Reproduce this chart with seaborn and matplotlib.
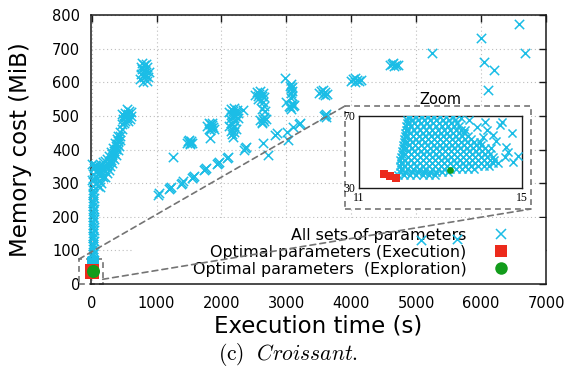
import matplotlib
matplotlib.use("Agg")
import matplotlib.pyplot as plt
from matplotlib.lines import Line2D
from matplotlib.patches import Rectangle, ConnectionPatch
import pandas as pd
import seaborn as sns

# ---------------- data ----------------
x_ticks = [0, 1000, 2000, 3000, 4000, 5000, 6000, 7000]
y_ticks = [0, 100, 200, 300, 400, 500, 600, 700, 800]
inset_xticks = [11, 15]
inset_yticks = [30, 70]

labels = ["All sets of parameters", "Optimal parameters (Execution)",
          "Optimal parameters  (Exploration)"]

# vertical band of runs close to 0 s
band_pts = [(14, 72), (28, 80), (18, 88), (32, 96), (15, 104), (27, 112), (19, 120),
            (31, 128), (14, 136), (26, 144), (20, 152), (33, 160), (15, 168), (28, 176),
            (18, 184), (32, 192), (14, 200), (27, 208), (20, 216), (31, 224), (15, 232),
            (28, 240), (18, 248), (33, 256), (14, 264), (26, 272), (20, 280)]
# rising curve of short runs
curve_pts = [(20, 290), (60, 300), (100, 292), (130, 288), (40, 312), (80, 316), (120, 305),
             (20, 326), (60, 332), (100, 330), (30, 345), (70, 350), (10, 358), (45, 355),
             (150, 300), (170, 318), (200, 318), (230, 330), (260, 340), (290, 350),
             (320, 360), (350, 372), (380, 385), (400, 398), (420, 410),
             (110, 350), (150, 355), (180, 362), (210, 365), (240, 372), (270, 380),
             (300, 392), (330, 405), (360, 420), (385, 432), (410, 440), (440, 452), (465, 460),
             (140, 335), (180, 340), (220, 348), (250, 358), (280, 365), (310, 378),
             (340, 390), (370, 402), (395, 415), (430, 428), (160, 345), (200, 335),
             (240, 350), (300, 370), (350, 395), (410, 425), (10, 310), (90, 340),
             (130, 322), (190, 350), (260, 362), (320, 388), (380, 410), (440, 440)]
cluster_500 = [(460, 475), (480, 490), (500, 500), (520, 510), (540, 495), (560, 505),
               (580, 515), (600, 500), (520, 485), (560, 485), (500, 480), (540, 520),
               (590, 490), (470, 505), (610, 512)]
cluster_630 = [(740, 610), (760, 625), (780, 640), (800, 650), (820, 635), (840, 620),
               (860, 645), (880, 630), (800, 615), (780, 658), (830, 655), (760, 645),
               (850, 605), (810, 625), (870, 615), (790, 600)]
clusters_mid = [(1470, 420), (1490, 425), (1510, 418), (1530, 424), (1550, 420), (1500, 428),
                (1520, 416),
                (1780, 470), (1800, 462), (1820, 475), (1840, 465), (1860, 472), (1880, 460),
                (1830, 458), (1810, 480), (1850, 478), (1870, 468),
                (2120, 512), (2140, 520), (2160, 505), (2180, 515), (2200, 522), (2220, 508),
                (2240, 518), (2260, 510), (2170, 498), (2210, 500), (2130, 490), (2150, 478),
                (2170, 465), (2140, 455), (2190, 470), (2160, 445), (2200, 452), (2180, 438),
                (2210, 485), (2230, 462), (2120, 470), (2250, 495), (2330, 517),
                (2520, 562), (2540, 570), (2560, 558), (2580, 566), (2600, 574), (2620, 560),
                (2640, 568), (2570, 550), (2610, 548), (2640, 540), (2660, 530), (2630, 520),
                (2670, 515), (2650, 555),
                (2600, 488), (2620, 482), (2640, 492), (2660, 485), (2680, 490), (2630, 478),
                (2650, 498),
                (3060, 590), (3070, 582), (3080, 575), (3065, 568), (3085, 560), (3075, 552),
                (3090, 585), (3070, 595),
                (3040, 530), (3060, 525), (3080, 535), (3100, 528), (3120, 532), (3070, 520),
                (2980, 612), (3000, 541),
                (3510, 568), (3540, 575), (3570, 565), (3600, 572), (3630, 566), (3560, 578),
                (3590, 562),
                (4000, 605), (4030, 610), (4060, 602), (4090, 608), (4120, 604), (4050, 612),
                (4150, 606),
                (4600, 650), (4630, 655), (4660, 647), (4690, 652), (4720, 650), (4650, 658)]
trail_pts = [(1027, 265), (1045, 270), (1207, 285), (1190, 282), (1225, 288), (1387, 301),
             (1370, 298), (1400, 305), (1566, 319), (1550, 316), (1580, 322), (1746, 341),
             (1730, 338), (1760, 344), (1951, 359), (1935, 356), (1965, 362), (2105, 379),
             (2090, 376), (2362, 404), (2345, 400), (2380, 406), (2644, 418), (2824, 443),
             (2721, 384), (3005, 453), (3210, 480), (3195, 476), (3595, 503), (3580, 500),
             (3610, 506), (1823, 433), (1257, 379), (3029, 428), (2850, 448), (3102, 468),
             (3615, 497)]
outliers = [(5245, 687), (6000, 732), (6585, 773), (6680, 687), (6050, 660), (6200, 636),
            (6110, 577), (5080, 131), (5630, 134)]

# zoomed region (11-15 s, 30-70 MiB): rows of points
inset_row_y = [37.0, 38.7, 40.4, 42.1, 43.8, 45.5, 47.2, 48.9, 50.6, 52.3, 54.0, 55.7,
               57.4, 59.1, 60.8, 62.5, 64.2, 65.9, 67.6, 69.3]
inset_row_x = [
    [11.96, 12.11, 12.26, 12.41, 12.56, 12.71, 12.86],
    [12.0, 12.14, 12.29, 12.44, 12.59, 12.74, 12.89, 13.04, 13.19],
    [12.02, 12.18, 12.33, 12.48, 12.63, 12.78, 12.93, 13.08, 13.23, 13.38, 13.53, 13.68, 13.83],
    [12.0, 12.12, 12.26, 12.41, 12.56, 12.71, 12.86, 13.01, 13.16, 13.31, 13.46, 13.61, 13.76, 13.91, 14.06, 14.2],
    [12.03, 12.19, 12.34, 12.49, 12.64, 12.79, 12.94, 13.09, 13.24, 13.39, 13.54, 13.69, 13.84, 13.99, 14.14, 14.28],
    [12.01, 12.13, 12.27, 12.42, 12.57, 12.72, 12.87, 13.02, 13.17, 13.32, 13.47, 13.62, 13.77, 13.92, 14.07, 14.22, 14.32],
    [12.04, 12.2, 12.35, 12.5, 12.65, 12.8, 12.95, 13.1, 13.25, 13.4, 13.55, 13.7, 13.85, 14.0, 14.15, 14.28],
    [12.05, 12.14, 12.28, 12.43, 12.58, 12.73, 12.88, 13.03, 13.18, 13.33, 13.48, 13.63, 13.78, 13.93, 14.08, 14.22],
    [12.06, 12.21, 12.36, 12.51, 12.66, 12.81, 12.96, 13.11, 13.26, 13.41, 13.56, 13.71, 13.86, 14.01, 14.16],
    [12.08, 12.15, 12.29, 12.44, 12.59, 12.74, 12.89, 13.04, 13.19, 13.34, 13.49, 13.64, 13.79, 13.94, 14.08],
    [12.09, 12.23, 12.38, 12.53, 12.68, 12.83, 12.98, 13.13, 13.28, 13.43, 13.58, 13.73, 13.88, 14.0],
    [12.1, 12.17, 12.31, 12.46, 12.61, 12.76, 12.91, 13.06, 13.21, 13.36, 13.51, 13.66, 13.81],
    [12.11, 12.24, 12.39, 12.54, 12.69, 12.84, 12.99, 13.14, 13.29, 13.44, 13.59, 13.74],
    [12.12, 12.18, 12.32, 12.47, 12.62, 12.77, 12.92, 13.07, 13.22, 13.37, 13.52, 13.67],
    [12.13, 12.26, 12.41, 12.56, 12.71, 12.86, 13.01, 13.16, 13.31, 13.46, 13.58],
    [12.15, 12.2, 12.34, 12.49, 12.64, 12.79, 12.94, 13.09, 13.24, 13.39, 13.5],
    [12.16, 12.28, 12.43, 12.58, 12.73, 12.88, 13.03, 13.18, 13.33, 13.45],
    [12.17, 12.22, 12.36, 12.51, 12.66, 12.81, 12.96, 13.11, 13.26, 13.4],
    [12.19, 12.3, 12.45, 12.6, 12.75, 12.9, 13.05, 13.2, 13.35],
    [12.2, 12.25, 12.39, 12.54, 12.69, 12.84, 12.99, 13.14, 13.3],
]
inset_sparse = [(14.78, 44.6), (14.66, 50.2), (14.75, 60.4), (14.46, 65.0), (14.5, 66.8),
                (14.3, 59.4), (14.14, 62.2), (13.98, 55.7), (14.58, 47.4), (14.42, 43.7),
                (14.6, 53.0), (14.35, 56.0), (13.9, 64.0), (13.7, 68.0), (14.1, 66.5),
                (13.6, 62.0), (14.05, 58.5), (14.25, 52.0), (14.9, 48.0), (13.5, 69.0)]

exec_x = [11.62, 11.76, 11.90]
exec_y = [37.6, 36.9, 35.8]
explo_x = [13.23]
explo_y = [40.0]

# ---------------- tables ----------------
inset_pts = [(x, y) for y, row in zip(inset_row_y, inset_row_x) for x in row] + inset_sparse
zoom_df = pd.DataFrame(inset_pts, columns=["time", "mem"])
main_df = pd.DataFrame(band_pts + curve_pts + cluster_500 + cluster_630 + clusters_mid
                       + trail_pts + outliers + inset_pts, columns=["time", "mem"])
exec_df = pd.DataFrame({"time": exec_x, "mem": exec_y})
explo_df = pd.DataFrame({"time": explo_x, "mem": explo_y})

# ---------------- style ----------------
sns.set_theme(style="white")
plt.rcParams["font.family"] = ["DejaVu Sans"]
plt.rcParams["mathtext.fontset"] = "cm"
for key in ["text.color", "axes.labelcolor", "xtick.color", "ytick.color"]:
    plt.rcParams[key] = "black"

CYAN = "#1BBDE6"
RED = "#EC2A1C"
GREEN = "#129C1B"
GRAY = "#747474"
EDGE = "#1a1a1a"

W, H = 571, 376
fig = plt.figure(figsize=(W / 100, H / 100), dpi=100)

def fx(px):
    return px / W

def fy(py):
    return 1 - py / H

ax = fig.add_axes([fx(90.7), fy(284), (546 - 90.7) / W, (284 - 15) / H])

sns.scatterplot(data=main_df, x="time", y="mem", marker="x", s=45, linewidth=1.1,
                color=CYAN, ax=ax, zorder=3, legend=False, clip_on=False)
sns.scatterplot(data=exec_df, x="time", y="mem", marker="s", s=105, linewidth=0,
                color=RED, ax=ax, zorder=4, legend=False, clip_on=False)
sns.scatterplot(data=explo_df, x="time", y="mem", marker="o", s=88, linewidth=0,
                color=GREEN, ax=ax, zorder=5, legend=False, clip_on=False)

ax.set_xlim(-15, 7000)
ax.set_ylim(0, 800)
ax.set_xticks(x_ticks)
ax.set_yticks(y_ticks)
ax.tick_params(direction="in", length=5, width=1, top=True, right=True,
               labelsize=10.5, color=EDGE)
ax.tick_params(axis="x", pad=9)
ax.tick_params(axis="y", pad=7.5)
for s in ax.spines.values():
    s.set_color(EDGE)
    s.set_linewidth(1.1)
ax.set_axisbelow(True)
ax.grid(True, color="#bdbdbd", linestyle=(0, (1, 2.5)), linewidth=0.8)

ax.set_xlabel("Execution time (s)", fontsize=16.5)
ax.xaxis.label.set_verticalalignment("center")
ax.xaxis.set_label_coords(0.5, (284 - 326) / 269)
ax.set_ylabel("")
fig.text(fx(21), fy(150), "Memory cost (MiB)", rotation=90, ha="center", va="center",
         fontsize=16.5)

# white area behind the key
ax.add_patch(Rectangle((fx(133), fy(284)), fx(546) - fx(133), fy(218) - fy(284),
                       transform=fig.transFigure, facecolor="white", edgecolor="none",
                       zorder=1))

# key
handles = [Line2D([], [], ls="", marker="x", color=CYAN, markersize=7.5, mew=1.1),
           Line2D([], [], ls="", marker="s", color=RED, markersize=8.5, mew=0),
           Line2D([], [], ls="", marker="o", color=GREEN, markersize=9, mew=0)]
leg = ax.legend(handles, labels, loc="lower right", bbox_to_anchor=(fx(517), fy(277)),
                bbox_transform=fig.transFigure, frameon=False, markerfirst=False,
                fontsize=11.4, handlelength=2.0, handletextpad=1.2, labelspacing=0.13,
                borderpad=0, borderaxespad=0)
leg.set_zorder(2)

# small dashed box around the origin and the zoom box
ax.add_patch(Rectangle((-196, -1), 366, 75, fill=False, edgecolor=GRAY, lw=1.2,
                       linestyle=(0, (3.5, 2.5)), clip_on=False, zorder=2.5))
ax.add_patch(Rectangle((fx(345), fy(209)), fx(531) - fx(345), fy(106) - fy(209),
                       transform=fig.transFigure, facecolor="white", edgecolor=GRAY,
                       lw=1.2, linestyle=(0, (3.5, 2.5)), clip_on=False, zorder=2.6))
for a_xy, b_xy in [((-196, 74), (fx(345), fy(106))), ((170, 14), (fx(531), fy(209)))]:
    cp = ConnectionPatch(xyA=a_xy, coordsA=ax.transData, xyB=b_xy, coordsB=fig.transFigure,
                         color=GRAY, lw=1.2, linestyle=(0, (3.5, 2.5)), zorder=2.5)
    fig.add_artist(cp)

# inset
axi = fig.add_axes([fx(359), fy(188), (522 - 359) / W, (188 - 116) / H])
axi.set_zorder(3)
sns.scatterplot(data=zoom_df, x="time", y="mem", marker="x", s=34, linewidth=1.1,
                color=CYAN, ax=axi, zorder=3, legend=False)
sns.scatterplot(data=exec_df, x="time", y="mem", marker="s", s=28, linewidth=0,
                color=RED, ax=axi, zorder=4, legend=False)
sns.scatterplot(data=explo_df, x="time", y="mem", marker="o", s=24, linewidth=0,
                color=GREEN, ax=axi, zorder=5, legend=False)
axi.set_xlim(11, 15)
axi.set_ylim(30, 70)
axi.set_xticks(inset_xticks)
axi.set_yticks(inset_yticks)
axi.set_xlabel("")
axi.set_ylabel("")
axi.tick_params(length=0, labelsize=8.5, pad=3)
for t in axi.get_xticklabels() + axi.get_yticklabels():
    t.set_family(["Liberation Serif"])
for s in axi.spines.values():
    s.set_color(EDGE)
    s.set_linewidth(1.0)
axi.grid(False)

fig.text(fx(440), fy(99), "Zoom", ha="center", va="center", fontsize=10.5)
fig.text(fx(288), fy(355), r"$\mathrm{(c)}\ \ \mathit{Croissant.}$", ha="center",
         va="center", fontsize=15.5)

fig.savefig("out.png", dpi=100)
